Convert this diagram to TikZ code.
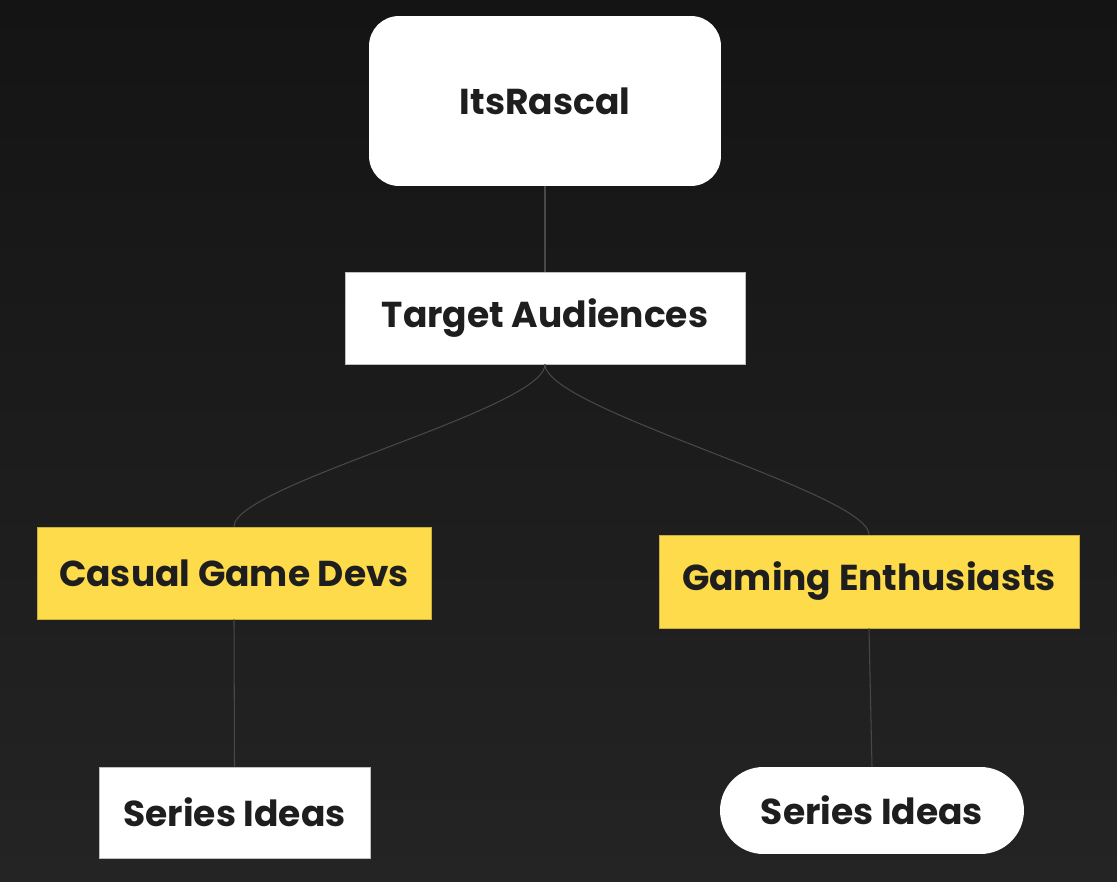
\documentclass[tikz,border=0pt]{standalone}
\usepackage{fontspec}
\setmainfont{Poppins}
\usepackage{tikz}
\usetikzlibrary{positioning}

\definecolor{bgtop}{HTML}{141414}
\definecolor{bgbot}{HTML}{242424}
\definecolor{ideayellow}{HTML}{FEDB4A}
\definecolor{inkdark}{HTML}{1E1E1E}
\definecolor{wirecol}{HTML}{484848}

\tikzset{
  mapbox/.style={inner sep=0pt,align=center,text=inkdark,
    font=\bfseries\fontsize{20.5}{24}\selectfont},
  whitebox/.style={mapbox,fill=white,draw=white!75!black,line width=0.4pt},
  yellowbox/.style={mapbox,fill=ideayellow,draw=ideayellow!80!black,line width=0.4pt},
  wire/.style={draw=wirecol,line width=0.6pt}
}

\begin{document}
\begin{tikzpicture}[x=0.02cm,y=-0.02cm]
\shade[top color=bgtop,bottom color=bgbot] (0,0) rectangle (1117,882);
\useasboundingbox (0,0) rectangle (1117,882);

\node[whitebox,draw=none,rounded corners=0.6cm,minimum width=7.04cm,minimum height=3.4cm] (rascal) at (545,101) {ItsRascal};
\node[whitebox,minimum width=8.0cm,minimum height=1.84cm] (target) at (545,318) {Target Audiences};
\node[yellowbox,minimum width=7.88cm,minimum height=1.84cm] (casual) at (234,573) {Casual Game Devs};
\node[yellowbox,minimum width=8.4cm,minimum height=1.86cm] (gaming) at (869,581.5) {Gaming Enthusiasts};
\node[whitebox,minimum width=5.42cm,minimum height=1.82cm] (ideasA) at (234.5,812.5) {Series Ideas};
\node[whitebox,draw=none,rounded corners=0.87cm,minimum width=6.08cm,minimum height=1.74cm] (ideasB) at (872,810.5) {Series Ideas};

% links
\draw[wire] (rascal.south) -- (target.north);
\draw[wire] (target.south) .. controls +(0,45) and +(0,-42) .. (casual.north);
\draw[wire] (target.south) .. controls +(0,45) and +(0,-42) .. (gaming.north);
\draw[wire] (casual.south) -- (ideasA.north);
\draw[wire] (gaming.south) -- (ideasB.north);
\end{tikzpicture}
\end{document}
